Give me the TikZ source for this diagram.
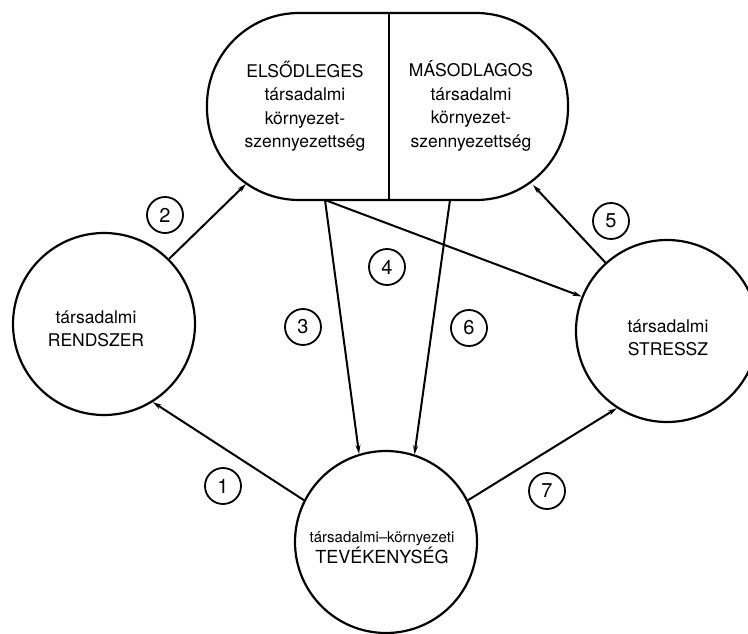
\documentclass[tikz,border=0pt]{standalone}
\usepackage{fontspec}
\setmainfont{TeX Gyre Heros}
\usetikzlibrary{arrows.meta}
\begin{document}
\begin{tikzpicture}[x=1pt,y=1pt,
  txt/.style={align=center,font=\fontsize{17.5}{23.5}\selectfont},
  bigcirc/.style={draw,circle,line width=2.2pt,minimum size=182pt,inner sep=0pt},
  numc/.style={draw,circle,line width=1.8pt,minimum size=36pt,inner sep=0pt,font=\fontsize{20}{20}\selectfont},
  conn/.style={line width=2pt,-{Stealth[length=9pt,width=5pt]}}]
\useasboundingbox (0,0) rectangle (748,-634);
% top stadium
\node[draw,line width=2.2pt,rounded corners=92pt,minimum width=361pt,minimum height=187pt,inner sep=0pt] (top) at (387.5,-106.5) {};
\draw[line width=1.8pt] (top.north -| 389,0) coordinate (dt) -- (top.south -| 389,0) coordinate (db);
\node[txt] (prim) at (305,-106) {ELSŐDLEGES\\társadalmi\\környezet-\\szennyezettség};
\node[txt] (sec) at (471,-106) {MÁSODLAGOS\\társadalmi\\környezet-\\szennyezettség};
% circles
\node[bigcirc] (rend) at (104,-324) {};
\node[txt] (rendt) at (96,-329) {társadalmi\\RENDSZER};
\node[bigcirc] (stre) at (667,-331) {};
\node[txt] (stret) at (668,-338) {társadalmi\\STRESSZ};
\node[bigcirc] (teve) at (386,-542) {};
\node[align=center] (tevet) at (382,-548) {{\fontsize{15}{23.5}\selectfont társadalmi–környezeti}\\{\fontsize{18}{23.5}\selectfont TEVÉKENYSÉG}};
% stadium connector points
\coordinate (s2) at (246,-184);
\coordinate (s5) at (533,-185);
\coordinate (s3) at (325,-200);
\coordinate (s6) at (450,-200);
% connectors
\draw[conn] (teve.153) -- (rend.-58);
\draw[conn] (rend.45) -- (s2);
\draw[conn] (s3) -- (teve.107);
\draw[conn] (s3) -- (stre.158);
\draw[conn] (stre.132) -- (s5);
\draw[conn] (s6) -- (teve.72);
\draw[conn] (teve.27) -- (stre.237);
% number labels
\node[numc] (n1) at (223,-486) {1};
\node[numc] (n2) at (165,-215) {2};
\node[numc] (n3) at (303,-327) {3};
\node[numc] (n4) at (387,-267) {4};
\node[numc] (n5) at (611,-221) {5};
\node[numc] (n6) at (469,-328) {6};
\node[numc] (n7) at (547,-491) {7};
\end{tikzpicture}
\end{document}
